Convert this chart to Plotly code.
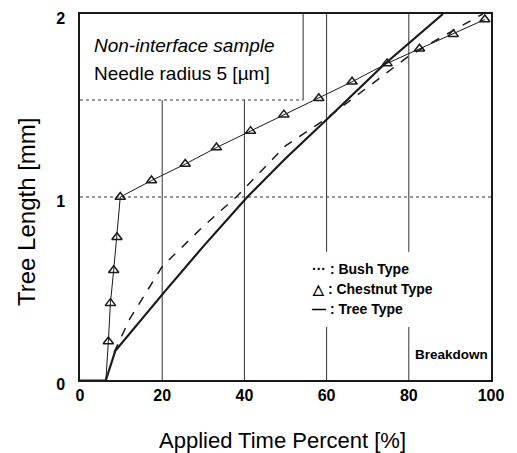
import plotly.graph_objects as go

# Chestnut type (triangles)
chestnut_x = [0, 6.3, 6.9, 7.4, 8.2, 9.0, 9.8, 17.4, 25.6, 33.2, 41.5, 49.6, 58.1, 66.2, 74.7, 82.6, 90.8, 98.5]
chestnut_y = [0, 0, 0.21, 0.42, 0.60, 0.78, 1.0, 1.09, 1.18, 1.27, 1.36, 1.45, 1.54, 1.63, 1.73, 1.81, 1.89, 1.97]
chestnut_marked = [False, False] + [True] * 16

# Tree type (solid)
tree_x = [6.3, 8.6, 20.5, 30, 40.7, 50, 60.8, 73.8, 88.3]
tree_y = [0, 0.16, 0.48, 0.73, 1.0, 1.21, 1.44, 1.72, 2.0]

# Bush type (dashed)
bush_x = [8.3, 12, 20, 30, 38, 50, 60, 70, 80, 90, 98]
bush_y = [0.15, 0.33, 0.62, 0.84, 1.0, 1.28, 1.43, 1.6, 1.77, 1.9, 2.0]

x_ticks = [0, 20, 40, 60, 80, 100]
y_ticks = [0, 1, 2]

LINE = "#1a1a1a"
GRID = "#333333"
FONT = "Liberation Sans, Arial, sans-serif"

# the page puts the figure 8px in from the corner, margins allow for that
W, H = 517, 453
L, R, T, B = 72, 34, 6, 81
PW, PH = W - L - R, H - T - B


def paper_x(px):
    return (px - 8 - L) / PW


def paper_y(py):
    return (H - B - (py - 8)) / PH


fig = go.Figure()

fig.add_trace(go.Scatter(x=chestnut_x, y=chestnut_y, mode="lines",
                         line=dict(color=LINE, width=1), hoverinfo="skip"))
mx = [x for x, m in zip(chestnut_x, chestnut_marked) if m]
my = [y for y, m in zip(chestnut_y, chestnut_marked) if m]
fig.add_trace(go.Scatter(x=mx, y=my, mode="markers",
                         marker=dict(symbol="triangle-up-open", size=9,
                                     color=LINE, line=dict(width=1.5))))
fig.add_trace(go.Scatter(x=bush_x, y=bush_y, mode="lines",
                         line=dict(color=LINE, width=1.5, dash="dash")))
fig.add_trace(go.Scatter(x=tree_x, y=tree_y, mode="lines",
                         line=dict(color=LINE, width=2.2)))

# partial gridlines and boxes
def vline(x, y0, y1, dash="solid"):
    fig.add_shape(type="line", x0=x, x1=x, y0=y0, y1=y1, xref="x", yref="y",
                  line=dict(color=GRID, width=1, dash=dash), layer="below")

vline(20, 0, 1.53)
vline(40, 0, 1.53)
vline(60, 0, 0.29)
vline(60, 0.70, 2)
vline(80, 0, 0.29)
vline(80, 0.70, 2)
fig.add_shape(type="line", x0=0, x1=100, y0=1, y1=1, line=dict(color=GRID, width=1, dash="dot"), layer="below")
fig.add_shape(type="line", x0=0, x1=54.3, y0=1.53, y1=1.53, line=dict(color=GRID, width=1, dash="dot"), layer="below")
fig.add_shape(type="line", x0=54.3, x1=54.3, y0=1.53, y1=2, line=dict(color=GRID, width=1), layer="below")

fig.add_annotation(x=2.8, y=1.83, xref="x", yref="y", xanchor="left", showarrow=False,
                   text="<i>Non-interface sample</i>", font=dict(size=19, color="black", family=FONT))
fig.add_annotation(x=2.8, y=1.675, xref="x", yref="y", xanchor="left", showarrow=False,
                   text="Needle radius 5 [µm]", font=dict(size=19, color="black", family=FONT))

legend_rows = [("··· : Bush Type", 0.605), ("△ : Chestnut Type", 0.495), ("— : Tree Type", 0.39)]
for txt, yy in legend_rows:
    fig.add_annotation(x=56, y=yy, xref="x", yref="y", xanchor="left", showarrow=False,
                       text="<b>" + txt + "</b>", font=dict(size=14, color="black", family=FONT))

fig.add_annotation(x=81, y=0.14, xref="x", yref="y", xanchor="left", showarrow=False,
                   text="<b>Breakdown</b>", font=dict(size=13.5, color="black", family=FONT))

# axis titles
fig.add_annotation(x=paper_x(282), y=paper_y(440), xref="paper", yref="paper", showarrow=False,
                   xanchor="center", yanchor="middle",
                   text="Applied Time Percent [%]", font=dict(size=22, color="black", family=FONT))
fig.add_annotation(x=paper_x(27), y=paper_y(212), xref="paper", yref="paper", showarrow=False,
                   xanchor="center", yanchor="middle", textangle=-90,
                   text="Tree Length [mm]", font=dict(size=24, color="black", family=FONT))

fig.update_layout(
    width=W, height=H,
    margin=dict(l=L, r=R, t=T, b=B, autoexpand=False),
    paper_bgcolor="white", plot_bgcolor="white",
    showlegend=False,
    font=dict(family=FONT, color="black"),
    xaxis=dict(range=[0, 100], tickvals=x_ticks, ticktext=["<b>%d</b>" % v for v in x_ticks],
               showgrid=False, zeroline=False, showline=True, mirror=True, automargin=False,
               linecolor=LINE, linewidth=1.5, ticks="", tickfont=dict(size=16),
               ticklabeloverflow="allow"),
    yaxis=dict(range=[0, 2], tickvals=y_ticks, ticktext=["<b>%d</b>" % v for v in y_ticks],
               showgrid=False, zeroline=False, showline=True, mirror=True, automargin=False,
               linecolor=LINE, linewidth=1.5, ticks="", tickfont=dict(size=16),
               ticklabelstandoff=10, ticklabelshift=4, ticklabeloverflow="allow"),
)

fig.write_html("out.html")
